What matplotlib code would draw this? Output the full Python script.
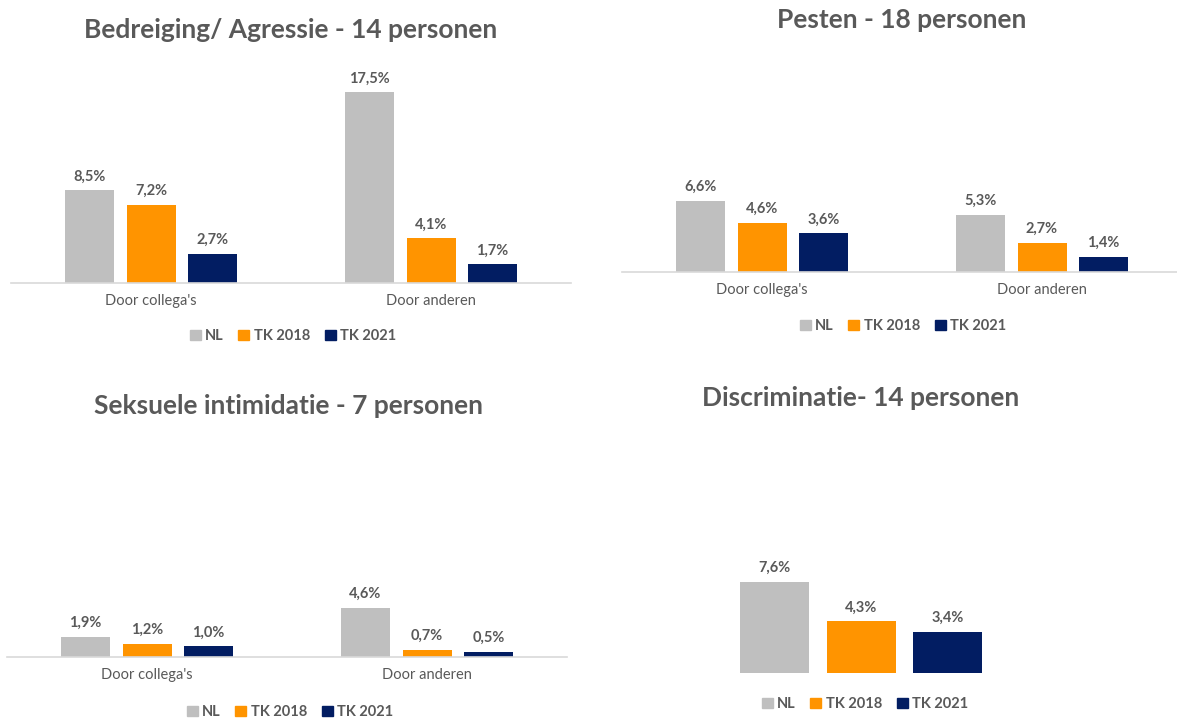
import matplotlib
matplotlib.use("Agg")
import matplotlib.pyplot as plt
from matplotlib.patches import Patch

W, H = 1177, 718

series = ["NL", "TK 2018", "TK 2021"]
colors = ["#BFBFBF", "#FF9400", "#021D62"]
txt = "#595959"

cats = ["Door collega's", "Door anderen"]

# percentages per chart, per series
bedreiging_nl = [8.5, 17.5]
bedreiging_tk18 = [7.2, 4.1]
bedreiging_tk21 = [2.7, 1.7]

pesten_nl = [6.6, 5.3]
pesten_tk18 = [4.6, 2.7]
pesten_tk21 = [3.6, 1.4]

seksueel_nl = [1.9, 4.6]
seksueel_tk18 = [1.2, 0.7]
seksueel_tk21 = [1.0, 0.5]

discr_nl = [7.6]
discr_tk18 = [4.3]
discr_tk21 = [3.4]

plt.rcParams['font.family'] = ['Lato', 'DejaVu Sans']

fig = plt.figure(figsize=(W / 100, H / 100), dpi=100)


def px_axes(x0, x1, ytop, ybot):
    return fig.add_axes([x0 / W, 1 - ybot / H, (x1 - x0) / W, (ybot - ytop) / H])


def fmt(v):
    return f"{v:.1f}%".replace(".", ",")


def draw(ax, data, labels, offs, width, ylim, xlim, axis_line=True):
    for i, vals in enumerate(data):
        xs = [k + offs[i] for k in range(len(vals))]
        bars = ax.bar(xs, vals, width, color=colors[i])
        for b, v in zip(bars, vals):
            ax.annotate(fmt(v), (b.get_x() + b.get_width() / 2, v),
                        xytext=(0, 5), textcoords="offset points",
                        ha="center", va="bottom", fontsize=10.5,
                        fontweight="bold", color=txt)
    ax.set_ylim(0, ylim)
    ax.set_xlim(*xlim)
    ax.set_yticks([])
    for s in ["top", "left", "right"]:
        ax.spines[s].set_visible(False)
    if axis_line:
        ax.spines["bottom"].set_color("#D9D9D9")
        ax.spines["bottom"].set_linewidth(1.2)
        ax.set_xticks(range(len(labels)))
        ax.set_xticklabels(labels, fontsize=10.5, color=txt)
        ax.tick_params(axis="x", length=0, pad=8)
    else:
        ax.spines["bottom"].set_visible(False)
        ax.set_xticks([])


def legend(cx, cy):
    handles = [Patch(color=c, label=s) for c, s in zip(colors, series)]
    fig.legend(handles=handles, loc="center", bbox_to_anchor=(cx / W, 1 - cy / H),
               ncol=3, frameon=False, handlelength=0.75, handleheight=0.75,
               handletextpad=0.3, columnspacing=1.0,
               prop={"size": 10.5, "weight": "bold"}, labelcolor=txt)


def title(s, cx, cy):
    fig.text(cx / W, 1 - cy / H, s, ha="center", va="center", fontsize=19,
             fontweight="bold", color=txt)


offs = [-0.22, 0.0, 0.22]
bw = 0.175

# top-left
ax1 = px_axes(11, 571, 60, 283)
draw(ax1, [bedreiging_nl, bedreiging_tk18, bedreiging_tk21], cats, offs, bw,
     (283 - 60) / 10.9, (-0.5, 1.5))
title("Bedreiging/ Agressie - 14 personen", 291, 30)
legend(293, 336)

# top-right
ax2 = px_axes(622, 1177, 60, 272)
draw(ax2, [pesten_nl, pesten_tk18, pesten_tk21], cats, offs, bw,
     (272 - 60) / 10.76, (-0.5, 1.482))
title("Pesten - 18 personen", 902, 20)
legend(903, 326)

# bottom-left
ax3 = px_axes(7, 567, 440, 657)
draw(ax3, [seksueel_nl, seksueel_tk18, seksueel_tk21], cats, offs, bw,
     (657 - 440) / 10.65, (-0.5, 1.5))
title("Seksuele intimidatie - 7 personen", 288, 406)
legend(290, 712)

# bottom-right
ax4 = px_axes(661, 1061, 440, 673)
draw(ax4, [discr_nl, discr_tk18, discr_tk21], [""], [-0.216, 0.0, 0.216], 0.1725,
     (673 - 440) / 12.0, (-0.5, 0.5), axis_line=False)
title("Discriminatie- 14 personen", 861, 398)
legend(865, 704)

fig.savefig("out.png", dpi=100)
